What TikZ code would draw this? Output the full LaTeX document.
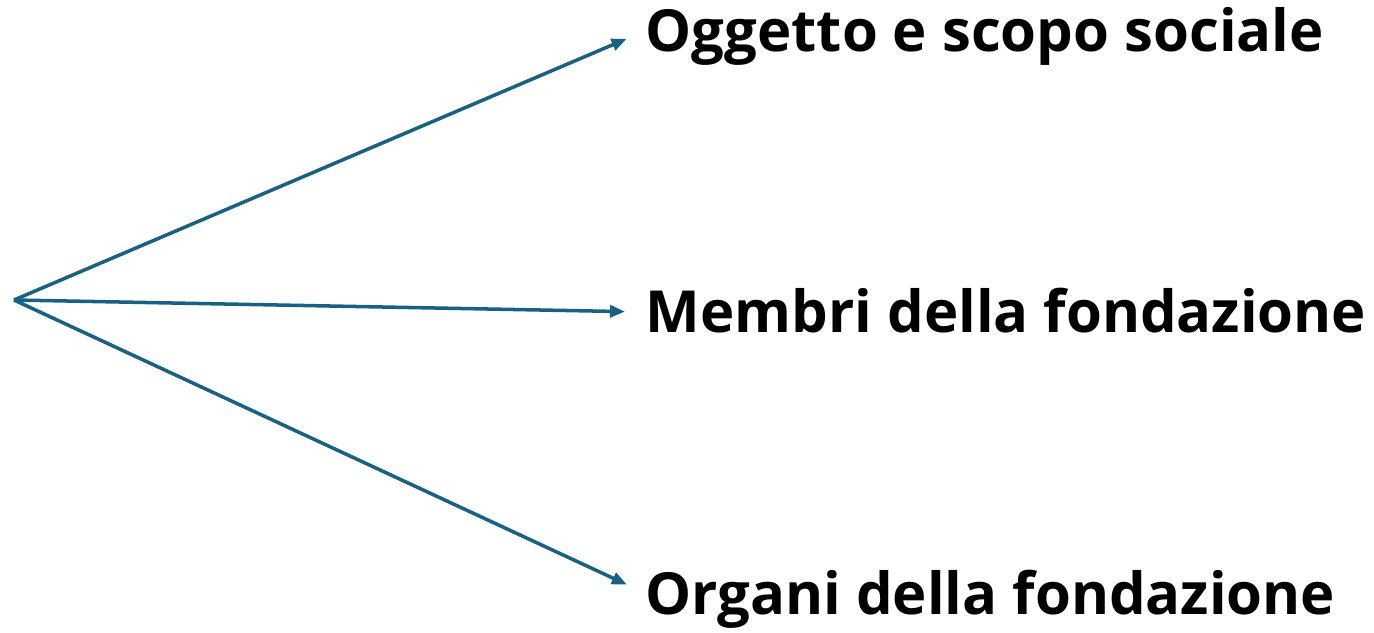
\documentclass[tikz,border=0pt]{standalone}
\usepackage{fontspec}
\setmainfont{Open Sans}
\usetikzlibrary{arrows.meta, positioning}

\definecolor{linkblue}{RGB}{24,97,130}

\begin{document}
\begin{tikzpicture}[
    branch/.style={linkblue, line width=1pt, -{Triangle[length=0.15cm,width=0.12cm]}, shorten >=0.2cm},
    item/.style={anchor=west, inner sep=0pt, text height=0.42cm, text depth=0pt, font=\fontsize{16.5}{20}\selectfont\bfseries}
]
    \useasboundingbox (0,0) rectangle (13.74,6.32);

    % Root point and the three items
    \coordinate (root) at (0.14,3.32);
    \node[item] (scopo) at (6.45,6.01) {Oggetto e scopo sociale};
    \node[item] (membri) at (6.45,3.20) {Membri della fondazione};
    \node[item] (organi) at (6.45,0.39) {Organi della fondazione};

    % Arrows from root to each item
    \foreach \n in {scopo,membri,organi} {
        \draw[branch] (root) -- (\n.west);
    }
\end{tikzpicture}
\end{document}
